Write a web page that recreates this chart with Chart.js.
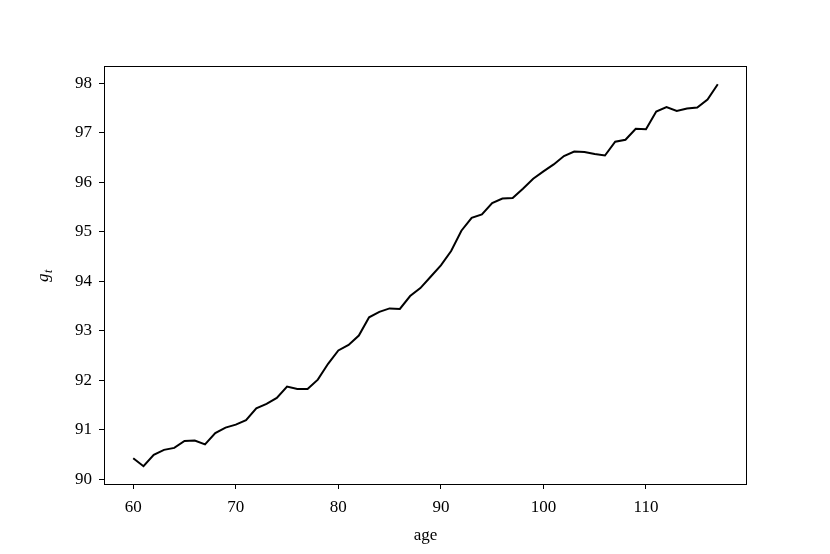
<!DOCTYPE html>
<html>
    <head>
        <meta charset="utf-8">
        <title>g_t by age</title>
        <script src="https://cdn.jsdelivr.net/npm/chart.js@4.4.0/dist/chart.umd.min.js"></script>
        <style>
            html, body {
                margin: 0;
                padding: 0;
                background: #fff;
            }
            #container {
                width: 830px;
                height: 554px;
            }
        </style>
    </head>
    <body>
        <div id="container">
            <canvas id="vis" width="830" height="554"></canvas>
        </div>
        <script>
            const ages = [60, 61, 62, 63, 64, 65, 66, 67, 68, 69,
                          70, 71, 72, 73, 74, 75, 76, 77, 78, 79,
                          80, 81, 82, 83, 84, 85, 86, 87, 88, 89,
                          90, 91, 92, 93, 94, 95, 96, 97, 98, 99,
                          100, 101, 102, 103, 104, 105, 106, 107, 108, 109,
                          110, 111, 112, 113, 114, 115, 116, 117];
            const gt = [90.42, 90.26, 90.49, 90.59, 90.63, 90.77, 90.78, 90.70, 90.93, 91.04,
                        91.10, 91.19, 91.43, 91.52, 91.64, 91.87, 91.82, 91.82, 92.01, 92.33,
                        92.60, 92.71, 92.90, 93.27, 93.38, 93.45, 93.44, 93.70, 93.86, 94.09,
                        94.32, 94.61, 95.02, 95.28, 95.35, 95.58, 95.67, 95.68, 95.87, 96.07,
                        96.22, 96.36, 96.53, 96.62, 96.61, 96.57, 96.54, 96.82, 96.86, 97.08,
                        97.07, 97.43, 97.52, 97.44, 97.49, 97.51, 97.67, 97.98];
            const xTicks = [60, 70, 80, 90, 100, 110];
            const yTicks = [90, 91, 92, 93, 94, 95, 96, 97, 98];

            const serif = '"Liberation Serif", "DejaVu Serif", serif';

            // frame + axis titles
            const decorations = {
                id: 'decorations',
                afterDraw(chart) {
                    const { ctx, chartArea: a } = chart;
                    ctx.save();
                    ctx.strokeStyle = '#000';
                    ctx.lineWidth = 1;
                    ctx.strokeRect(a.left + 0.5, a.top + 0.5, a.right - a.left - 1, a.bottom - a.top);

                    ctx.fillStyle = '#000';
                    ctx.textAlign = 'center';
                    ctx.textBaseline = 'middle';
                    ctx.font = `17px ${serif}`;
                    ctx.fillText('age', (a.left + a.right) / 2, 536);

                    ctx.translate(46, (a.top + a.bottom) / 2);
                    ctx.rotate(-Math.PI / 2);
                    ctx.textAlign = 'left';
                    ctx.font = `italic 17px ${serif}`;
                    ctx.fillText('g', -7, -2);
                    ctx.font = `italic 12px ${serif}`;
                    ctx.fillText('t', 2, 3);
                    ctx.restore();
                }
            };

            const tickOpts = {
                color: '#000',
                font: { family: serif, size: 17 },
            };

            new Chart(document.getElementById('vis'), {
                type: 'line',
                data: {
                    datasets: [{
                        data: ages.map((a, i) => ({ x: a, y: gt[i] })),
                        borderColor: '#000',
                        borderWidth: 2,
                        pointRadius: 0,
                        tension: 0,
                        fill: false
                    }]
                },
                options: {
                    responsive: false,
                    animation: false,
                    devicePixelRatio: 1,
                    layout: { padding: { left: 0, right: 83, top: 66, bottom: 0 } },
                    plugins: {
                        legend: { display: false },
                        tooltip: { enabled: false }
                    },
                    scales: {
                        x: {
                            type: 'linear',
                            min: 57.15,
                            max: 119.85,
                            afterBuildTicks: (s) => { s.ticks = xTicks.map(v => ({ value: v })); },
                            afterFit: (s) => { s.height = 70; },
                            grid: { drawOnChartArea: false, color: '#000', tickLength: 5, tickWidth: 1 },
                            border: { display: false },
                            ticks: { ...tickOpts, padding: 8, maxRotation: 0 }
                        },
                        y: {
                            type: 'linear',
                            min: 89.9,
                            max: 98.35,
                            afterBuildTicks: (s) => { s.ticks = yTicks.map(v => ({ value: v })); },
                            afterFit: (s) => { s.width = 104; },
                            grid: { drawOnChartArea: false, color: '#000', tickLength: 5, tickWidth: 1 },
                            border: { display: false },
                            ticks: { ...tickOpts, padding: 7 }
                        }
                    }
                },
                plugins: [decorations]
            });
        </script>
    </body>
</html>
